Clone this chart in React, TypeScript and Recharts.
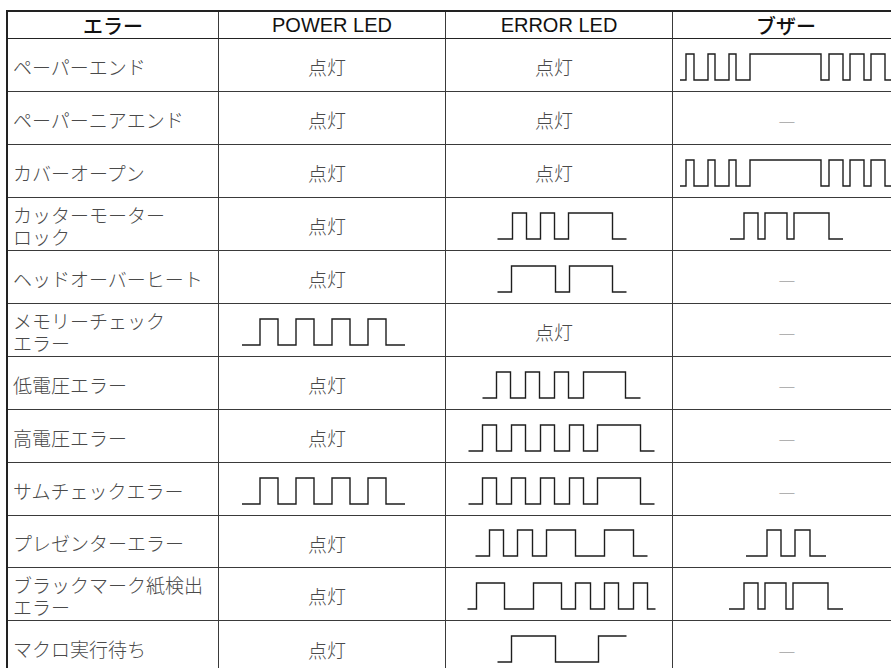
import React from 'react';
import { LineChart, Line, XAxis, YAxis } from 'recharts';

// ---- data ----
const headers = ['エラー', 'POWER LED', 'ERROR LED', 'ブザー'];

const errorNames = [
  'ペーパーエンド',
  'ペーパーニアエンド',
  'カバーオープン',
  'カッターモーター\nロック',
  'ヘッドオーバーヒート',
  'メモリーチェック\nエラー',
  '低電圧エラー',
  '高電圧エラー',
  'サムチェックエラー',
  'プレゼンターエラー',
  'ブラックマーク紙検出\nエラー',
  'マクロ実行待ち',
];

// waveform segment durations, alternating low / high, starting low
const waveLongBuzzer = [6, 8, 14, 7, 14, 7, 14, 71, 8, 14, 7, 14, 7, 14, 7];
const waveCutterLed = [15, 14, 14, 14, 14, 44, 14];
const waveCutterBuzzer = [14, 14, 7, 22, 7, 35, 14];
const waveHeadLed = [14, 44, 14, 43, 14];
const waveFourPulse = [18, 18, 18, 18, 18, 18, 18, 18, 19];
const waveLowVoltLed = [14, 14, 15, 14, 15, 14, 15, 42, 15];
const waveHighVoltLed = [14, 14, 15, 14, 15, 14, 15, 14, 14, 43, 14];
const wavePresenterLed = [14, 14, 14, 15, 14, 29, 29, 29, 14];
const wavePresenterBuzzer = [21, 14, 14, 15, 16];
const waveBlackMarkLed = [9, 28, 29, 28, 14, 15, 14, 14, 15, 14, 8];
const waveBlackMarkBuzzer = [15, 14, 7, 21, 7, 35, 15];
const waveMacroLed = [14, 44, 43, 28];

const ON = '点灯';
const NONE = '—';

type Cell = string | number[];

const powerLed: Cell[] = [ON, ON, ON, ON, ON, waveFourPulse, ON, ON, waveFourPulse, ON, ON, ON];
const errorLed: Cell[] = [ON, ON, ON, waveCutterLed, waveHeadLed, ON, waveLowVoltLed, waveHighVoltLed, waveHighVoltLed, wavePresenterLed, waveBlackMarkLed, waveMacroLed];
const buzzer: Cell[] = [waveLongBuzzer, NONE, waveLongBuzzer, waveCutterBuzzer, NONE, NONE, NONE, NONE, NONE, wavePresenterBuzzer, waveBlackMarkBuzzer, NONE];

// ---- layout ----
const colWidths = [211, 227, 227, 227];
const rowHeights = [53, 53, 53, 53, 53, 53, 53, 53, 53, 52, 53, 53];
const waveShift = [0, -9, 2.5, 0];
const textShift = [0, -5, -5, 0];
const LINE = '1px solid #3a3a3a';

function Wave({ segs }: { segs: number[] }) {
  const total = segs.reduce((a, b) => a + b, 0);
  const data: { t: number; v: number }[] = [];
  let t = 0;
  segs.forEach((d, i) => {
    data.push({ t, v: i % 2 === 0 ? 0 : 1 });
    t += d;
  });
  data.push({ t: total, v: (segs.length - 1) % 2 === 0 ? 0 : 1 });
  return (
    <LineChart width={total + 2} height={28} data={data} margin={{ top: 1, right: 1, bottom: 1, left: 1 }}>
      <XAxis dataKey="t" type="number" domain={[0, total]} hide />
      <YAxis type="number" domain={[0, 1]} hide />
      <Line
        type="stepAfter"
        dataKey="v"
        stroke="#1e1e1e"
        strokeWidth={1.4}
        dot={false}
        activeDot={false}
        isAnimationActive={false}
      />
    </LineChart>
  );
}

function ValueCell({ cell, col, h, last }: { cell: Cell; col: number; h: number; last: boolean }) {
  const base: React.CSSProperties = {
    width: colWidths[col],
    height: h,
    boxSizing: 'border-box',
    borderRight: LINE,
    borderBottom: last ? 'none' : LINE,
    display: 'flex',
    alignItems: 'center',
    justifyContent: 'center',
    paddingTop: 3,
  };
  if (Array.isArray(cell)) {
    return (
      <div style={base}>
        <div style={{ transform: `translateX(${waveShift[col]}px)` }}>
          <Wave segs={cell} />
        </div>
      </div>
    );
  }
  const isDash = cell === NONE;
  return (
    <div style={base}>
      <span
        style={{
          transform: `translateX(${isDash ? 1 : textShift[col]}px)`,
          color: isDash ? '#a0a0a0' : '#4a4a4a',
          fontSize: 19,
          fontWeight: 300,
        }}
      >
        {cell}
      </span>
    </div>
  );
}

export default function App() {
  return (
    <div
      style={{
        position: 'absolute',
        left: 0,
        top: 0,
        width: 891,
        height: 668,
        overflow: 'hidden',
        background: '#ffffff',
        fontFamily: "'Noto Sans CJK JP', sans-serif",
      }}
    >
      <div
        style={{
          position: 'absolute',
          left: 6,
          top: 10,
          width: 2 + colWidths.reduce((a, b) => a + b, 0),
          borderTop: '2px solid #222',
          borderLeft: '2px solid #222',
        }}
      >
        <div style={{ display: 'flex' }}>
          {headers.map((h, i) => (
            <div
              key={h}
              style={{
                width: colWidths[i],
                height: 27,
                boxSizing: 'border-box',
                borderRight: LINE,
                borderBottom: '1px solid #222',
                display: 'flex',
                alignItems: 'center',
                justifyContent: 'center',
                fontFamily: "'Liberation Sans', 'Noto Sans CJK JP', sans-serif",
                fontSize: 20,
                fontWeight: 500,
                color: '#111',
                paddingTop: 1,
              }}
            >
              {h}
            </div>
          ))}
        </div>
        {errorNames.map((name, r) => {
          const h = rowHeights[r];
          const last = r === errorNames.length - 1;
          return (
            <div key={name} style={{ display: 'flex' }}>
              <div
                style={{
                  width: colWidths[0],
                  height: h,
                  boxSizing: 'border-box',
                  borderRight: LINE,
                  borderBottom: last ? 'none' : LINE,
                  display: 'flex',
                  alignItems: 'center',
                  paddingLeft: 5,
                  paddingTop: 3,
                  color: '#4a4a4a',
                  fontSize: 19,
                  fontWeight: 300,
                  lineHeight: '22px',
                  whiteSpace: 'pre',
                }}
              >
                {name}
              </div>
              <ValueCell cell={powerLed[r]} col={1} h={h} last={last} />
              <ValueCell cell={errorLed[r]} col={2} h={h} last={last} />
              <ValueCell cell={buzzer[r]} col={3} h={h} last={last} />
            </div>
          );
        })}
      </div>
    </div>
  );
}
